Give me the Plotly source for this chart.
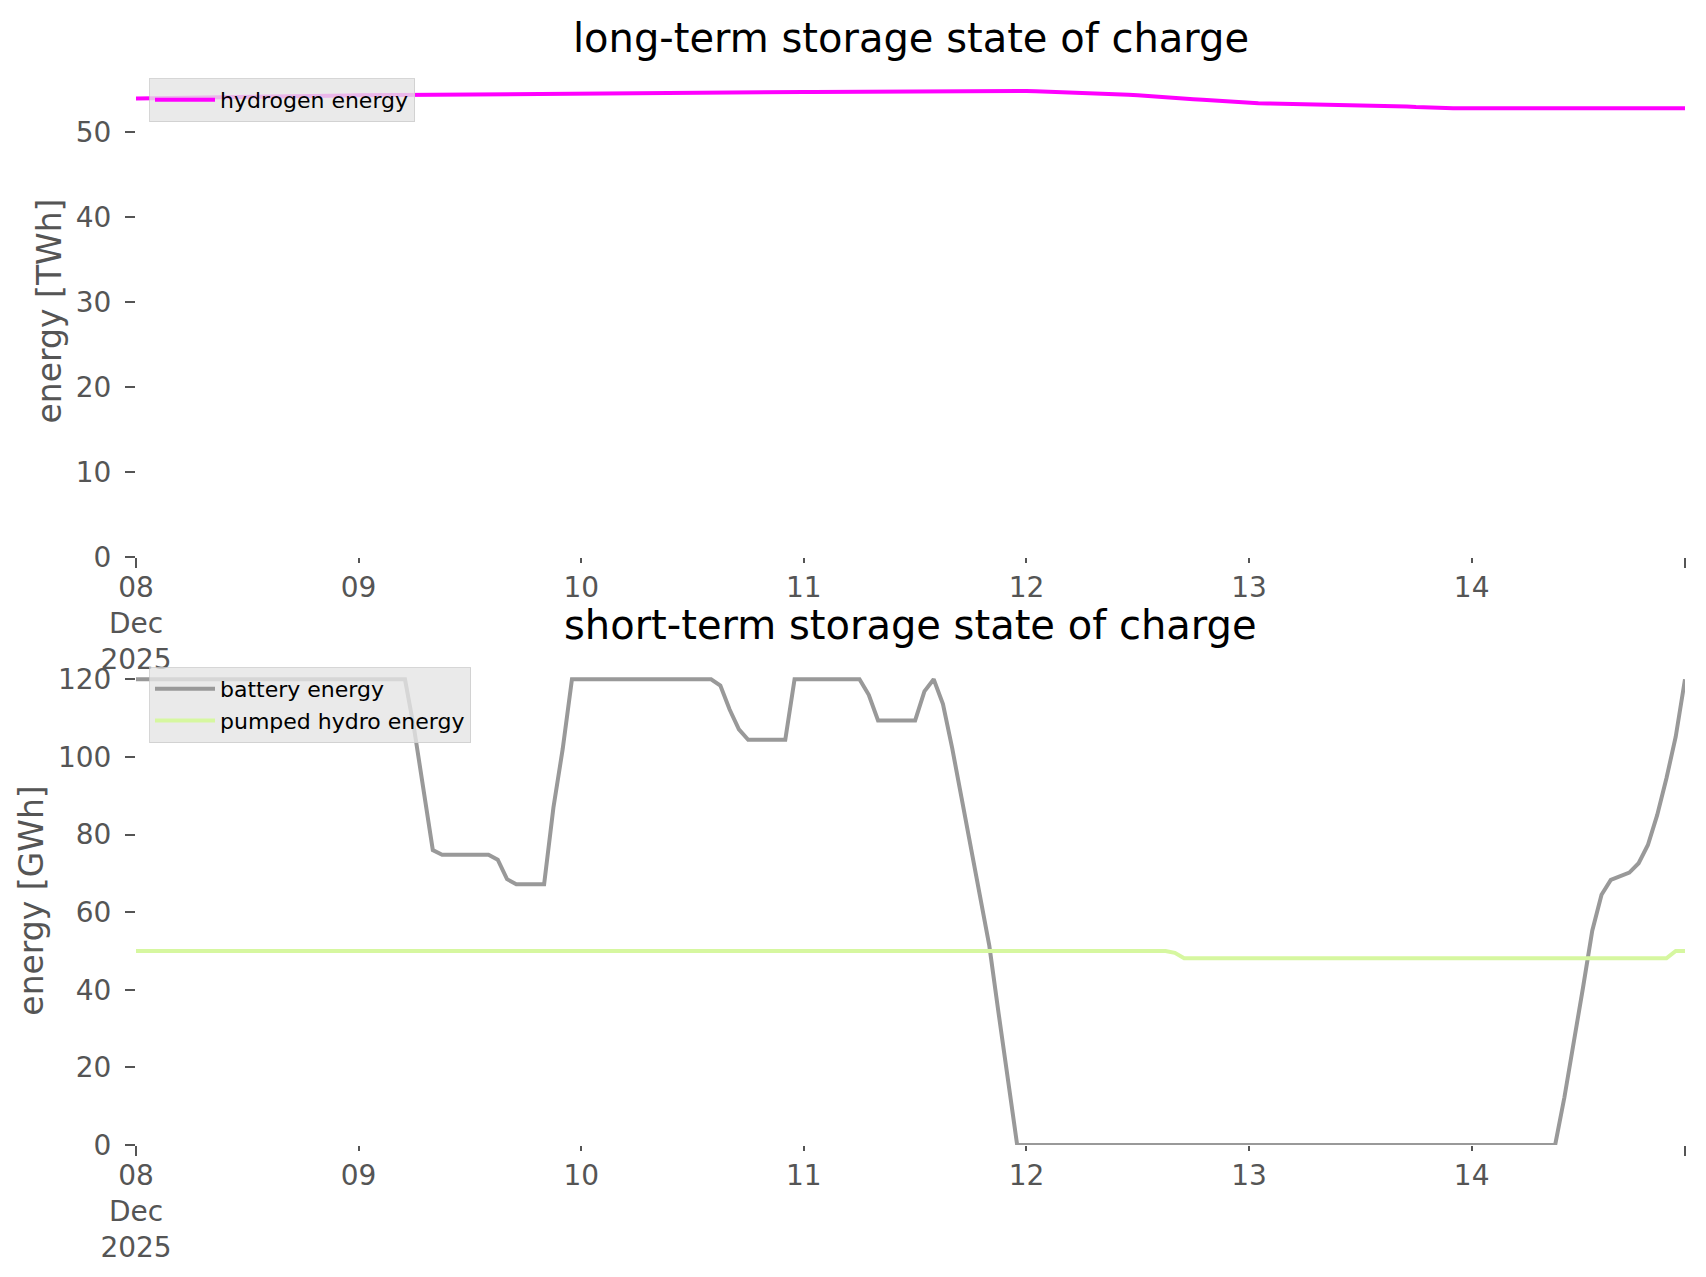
import pandas as pd
import plotly.graph_objects as go

# ---------------- data (hourly, 8-14 Dec 2025) ----------------
times = pd.date_range("2025-12-08 00:00", periods=168, freq="h")

hydrogen_twh = [
    # Dec 08
    53.97, 53.99, 54.01, 54.02, 54.04, 54.05, 54.07, 54.08, 54.10, 54.11, 54.13, 54.14,
    54.16, 54.17, 54.19, 54.20, 54.22, 54.23, 54.25, 54.26, 54.28, 54.29, 54.31, 54.32,
    # Dec 09
    54.33, 54.34, 54.35, 54.36, 54.37, 54.38, 54.39, 54.40, 54.41, 54.42, 54.43, 54.44,
    54.45, 54.46, 54.47, 54.47, 54.48, 54.49, 54.50, 54.51, 54.52, 54.52, 54.53, 54.54,
    # Dec 10
    54.55, 54.56, 54.56, 54.57, 54.58, 54.59, 54.59, 54.60, 54.61, 54.62, 54.62, 54.63,
    54.64, 54.64, 54.65, 54.66, 54.66, 54.67, 54.68, 54.68, 54.69, 54.70, 54.70, 54.71,
    # Dec 11
    54.72, 54.72, 54.73, 54.73, 54.74, 54.75, 54.75, 54.76, 54.76, 54.77, 54.77, 54.78,
    54.79, 54.79, 54.80, 54.80, 54.81, 54.81, 54.82, 54.82, 54.83, 54.83, 54.84, 54.84,
    # Dec 12
    54.84, 54.82, 54.79, 54.75, 54.71, 54.67, 54.63, 54.59, 54.55, 54.51, 54.47, 54.41,
    54.34, 54.28, 54.20, 54.12, 54.04, 53.96, 53.88, 53.80, 53.72, 53.64, 53.56, 53.49,
    # Dec 13
    53.42, 53.40, 53.38, 53.36, 53.34, 53.32, 53.30, 53.28, 53.26, 53.25, 53.23, 53.21,
    53.19, 53.17, 53.15, 53.12, 53.07, 53.01, 52.95, 52.90, 52.86, 52.83, 52.82, 52.82,
    # Dec 14
    52.81, 52.81, 52.81, 52.81, 52.81, 52.81, 52.81, 52.81, 52.81, 52.81, 52.81, 52.81,
    52.80, 52.80, 52.80, 52.80, 52.80, 52.80, 52.80, 52.80, 52.80, 52.80, 52.80, 52.80,
]

battery_gwh = [
    # Dec 08
    120, 120, 120, 120, 120, 120, 120, 120, 120, 120, 120, 120,
    120, 120, 120, 120, 120, 120, 120, 120, 120, 120, 120, 120,
    # Dec 09
    120, 120, 120, 120, 120, 120, 107, 91, 76, 74.8, 74.8, 74.8,
    74.8, 74.8, 74.8, 73.5, 68.5, 67.2, 67.2, 67.2, 67.2, 86.9, 102, 120,
    # Dec 10
    120, 120, 120, 120, 120, 120, 120, 120, 120, 120, 120, 120,
    120, 120, 120, 118.4, 112.2, 107.1, 104.4, 104.4, 104.4, 104.4, 104.4, 120,
    # Dec 11
    120, 120, 120, 120, 120, 120, 120, 116.0, 109.4, 109.4, 109.4, 109.4,
    109.4, 116.9, 120, 113.6, 102.2, 89.5, 76.7, 64.0, 51.3, 33.9, 16.3, 0,
    # Dec 12
    0, 0, 0, 0, 0, 0, 0, 0, 0, 0, 0, 0,
    0, 0, 0, 0, 0, 0, 0, 0, 0, 0, 0, 0,
    # Dec 13
    0, 0, 0, 0, 0, 0, 0, 0, 0, 0, 0, 0,
    0, 0, 0, 0, 0, 0, 0, 0, 0, 0, 0, 0,
    # Dec 14
    0, 0, 0, 0, 0, 0, 0, 0, 0, 0, 12.3, 26.0,
    40.5, 55.2, 64.5, 68.3, 69.2, 70.2, 72.6, 77.3, 85.0, 94.5, 105.2, 120,
]

pumped_hydro_gwh = [
    # Dec 08
    50, 50, 50, 50, 50, 50, 50, 50, 50, 50, 50, 50,
    50, 50, 50, 50, 50, 50, 50, 50, 50, 50, 50, 50,
    # Dec 09
    50, 50, 50, 50, 50, 50, 50, 50, 50, 50, 50, 50,
    50, 50, 50, 50, 50, 50, 50, 50, 50, 50, 50, 50,
    # Dec 10
    50, 50, 50, 50, 50, 50, 50, 50, 50, 50, 50, 50,
    50, 50, 50, 50, 50, 50, 50, 50, 50, 50, 50, 50,
    # Dec 11
    50, 50, 50, 50, 50, 50, 50, 50, 50, 50, 50, 50,
    50, 50, 50, 50, 50, 50, 50, 50, 50, 50, 50, 50,
    # Dec 12
    50, 50, 50, 50, 50, 50, 50, 50, 50, 50, 50, 50,
    50, 50, 50, 50, 49.5, 48.1, 48.1, 48.1, 48.1, 48.1, 48.1, 48.1,
    # Dec 13
    48.1, 48.1, 48.1, 48.1, 48.1, 48.1, 48.1, 48.1, 48.1, 48.1, 48.1, 48.1,
    48.1, 48.1, 48.1, 48.1, 48.1, 48.1, 48.1, 48.1, 48.1, 48.1, 48.1, 48.1,
    # Dec 14
    48.1, 48.1, 48.1, 48.1, 48.1, 48.1, 48.1, 48.1, 48.1, 48.1, 48.1, 48.1,
    48.1, 48.1, 48.1, 48.1, 48.1, 48.1, 48.1, 48.1, 48.1, 48.1, 50, 50,
]

day_ticks = pd.date_range("2025-12-08", periods=7, freq="D")
day_labels = ["08<br>Dec<br>2025", "09", "10", "11", "12", "13", "14"]
twh_ticks = [0, 10, 20, 30, 40, 50]
gwh_ticks = [0, 20, 40, 60, 80, 100, 120]

# ---------------- styling ----------------
FONT = "DejaVu Sans"
TICKC = "#555555"
W, H = 1706, 1277
ML, MR, MT, MB = 136, 21, 65, 132
PH = H - MT - MB


def py(p):
    return (H - MB - p) / PH


fig = go.Figure()
fig.add_trace(go.Scatter(x=times, y=hydrogen_twh, mode="lines", name="hydrogen energy",
                         line=dict(color="#ff00ff", width=4), xaxis="x", yaxis="y",
                         legend="legend"))
fig.add_trace(go.Scatter(x=times, y=battery_gwh, mode="lines", name="battery energy",
                         line=dict(color="#999999", width=4), xaxis="x2", yaxis="y2",
                         legend="legend2"))
fig.add_trace(go.Scatter(x=times, y=pumped_hydro_gwh, mode="lines", name="pumped hydro energy",
                         line=dict(color="#d6f7a0", width=4), xaxis="x2", yaxis="y2",
                         legend="legend2"))
# empty helper traces so the end-tick overlay axes get drawn
fig.add_trace(go.Scatter(x=[], y=[], xaxis="x3", yaxis="y", showlegend=False, hoverinfo="skip"))
fig.add_trace(go.Scatter(x=[], y=[], xaxis="x4", yaxis="y2", showlegend=False, hoverinfo="skip"))

xrange = [times[0], times[-1]]
xcommon = dict(type="date", range=xrange, tickmode="array", tickvals=list(day_ticks),
               ticktext=day_labels, ticks="outside", ticklen=5, tickwidth=1.6,
               tickcolor=TICKC, tickfont=dict(family=FONT, size=28, color=TICKC),
               showgrid=False, zeroline=False, showline=False, domain=[0, 1])
endticks = dict(type="date", range=xrange, tickmode="array", tickvals=[times[0], times[-1]],
                ticktext=["", ""], ticks="outside", ticklen=10, tickwidth=2.2,
                tickcolor=TICKC, showticklabels=False, showgrid=False, zeroline=False,
                showline=False, domain=[0, 1])
ycommon = dict(ticks="outside", ticklen=10, tickwidth=2.2, tickcolor=TICKC,
               tickfont=dict(family=FONT, size=28, color=TICKC), ticklabelstandoff=8,
               showgrid=False, zeroline=False, showline=False, tickmode="array")

legend_style = dict(bgcolor="rgba(229,229,229,0.8)", bordercolor="rgba(204,204,204,0.8)",
                    borderwidth=1, font=dict(family=FONT, size=22, color="black"),
                    xanchor="left", yanchor="top", traceorder="normal", itemwidth=60)

fig.update_layout(
    width=W, height=H,
    margin=dict(l=ML, r=MR, t=MT, b=MB),
    paper_bgcolor="white", plot_bgcolor="white",
    font=dict(family=FONT, color=TICKC),
    xaxis=dict(anchor="y", **xcommon),
    xaxis2=dict(anchor="y2", **xcommon),
    xaxis3=dict(anchor="y", overlaying="x", **endticks),
    xaxis4=dict(anchor="y2", overlaying="x2", **endticks),
    yaxis=dict(anchor="x", domain=[py(557), 1.0], range=[0, 57.9], tickvals=twh_ticks,
               title=dict(text="energy [TWh]", font=dict(family=FONT, size=33, color=TICKC),
                          standoff=4), **ycommon),
    yaxis2=dict(anchor="x2", domain=[0, py(656)], range=[0, 126], tickvals=gwh_ticks,
                title=dict(text="energy [GWh]", font=dict(family=FONT, size=33, color=TICKC),
                           standoff=4), **ycommon),
    legend=dict(x=(149 - ML) / (W - ML - MR), y=py(78), **legend_style),
    legend2=dict(x=(149 - ML) / (W - ML - MR), y=py(667), **legend_style),
    annotations=[
        dict(text="long-term storage state of charge", xref="paper", yref="paper",
             x=0.5, y=py(38), xanchor="center", yanchor="middle", showarrow=False,
             font=dict(family=FONT, size=40, color="black")),
        dict(text="short-term storage state of charge", xref="paper", yref="paper",
             x=0.5, y=py(625), xanchor="center", yanchor="middle", showarrow=False,
             font=dict(family=FONT, size=40, color="black")),
    ],
    showlegend=True,
)

fig.write_html("out.html",
               config={"displayModeBar": False},
               post_script="document.body.style.margin='0px';"
                           "document.body.style.overflow='hidden';")
